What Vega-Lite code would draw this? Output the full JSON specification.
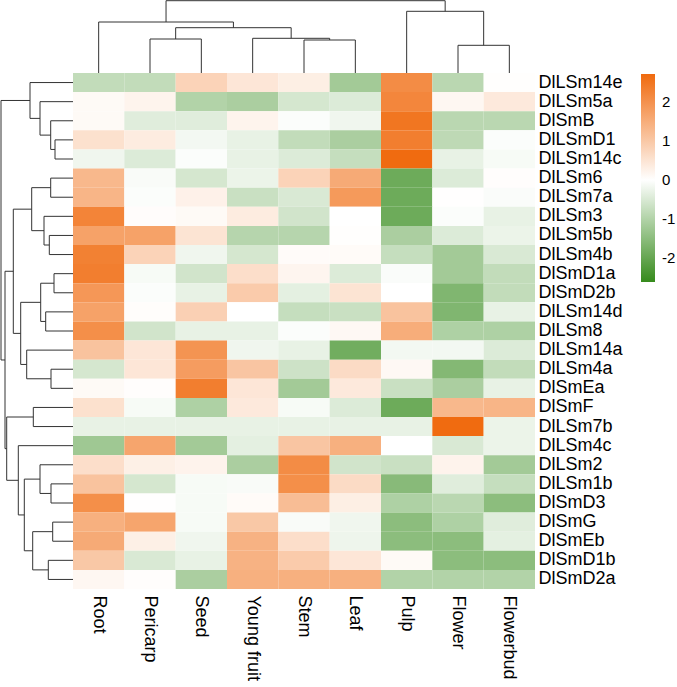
{
  "$schema": "https://vega.github.io/schema/vega-lite/v6.json",
  "padding": 0,
  "autosize": {"type": "pad"},
  "background": "white",
  "config": {"view": {"stroke": null}, "font": "Liberation Sans"},
  "spacing": 0,
  "columns": 2,
  "align": "each",
  "bounds": "flush",
  "datasets": {
    "heat": [
      {"gene":"DlLSm14e","tissue":"Root","value":-0.8},{"gene":"DlLSm14e","tissue":"Pericarp","value":-0.8},{"gene":"DlLSm14e","tissue":"Seed","value":0.8},{"gene":"DlLSm14e","tissue":"Young fruit","value":0.45},{"gene":"DlLSm14e","tissue":"Stem","value":0.3},{"gene":"DlLSm14e","tissue":"Leaf","value":-1.2},{"gene":"DlLSm14e","tissue":"Pulp","value":2.1},{"gene":"DlLSm14e","tissue":"Flower","value":-0.9},{"gene":"DlLSm14e","tissue":"Flowerbud","value":0.02},
      {"gene":"DlLSm5a","tissue":"Root","value":0.1},{"gene":"DlLSm5a","tissue":"Pericarp","value":0.2},{"gene":"DlLSm5a","tissue":"Seed","value":-1.0},{"gene":"DlLSm5a","tissue":"Young fruit","value":-1.1},{"gene":"DlLSm5a","tissue":"Stem","value":-0.55},{"gene":"DlLSm5a","tissue":"Leaf","value":-0.45},{"gene":"DlLSm5a","tissue":"Pulp","value":2.2},{"gene":"DlLSm5a","tissue":"Flower","value":0.15},{"gene":"DlLSm5a","tissue":"Flowerbud","value":0.4},
      {"gene":"DlSmB","tissue":"Root","value":0.1},{"gene":"DlSmB","tissue":"Pericarp","value":-0.4},{"gene":"DlSmB","tissue":"Seed","value":-0.4},{"gene":"DlSmB","tissue":"Young fruit","value":0.2},{"gene":"DlSmB","tissue":"Stem","value":-0.05},{"gene":"DlSmB","tissue":"Leaf","value":-0.2},{"gene":"DlSmB","tissue":"Pulp","value":2.5},{"gene":"DlSmB","tissue":"Flower","value":-0.9},{"gene":"DlSmB","tissue":"Flowerbud","value":-0.9},
      {"gene":"DlLSmD1","tissue":"Root","value":0.55},{"gene":"DlLSmD1","tissue":"Pericarp","value":0.35},{"gene":"DlLSmD1","tissue":"Seed","value":-0.15},{"gene":"DlLSmD1","tissue":"Young fruit","value":-0.3},{"gene":"DlLSmD1","tissue":"Stem","value":-0.8},{"gene":"DlLSmD1","tissue":"Leaf","value":-1.1},{"gene":"DlLSmD1","tissue":"Pulp","value":2.35},{"gene":"DlLSmD1","tissue":"Flower","value":-0.85},{"gene":"DlLSmD1","tissue":"Flowerbud","value":-0.05},
      {"gene":"DlLSm14c","tissue":"Root","value":-0.2},{"gene":"DlLSm14c","tissue":"Pericarp","value":-0.45},{"gene":"DlLSm14c","tissue":"Seed","value":-0.05},{"gene":"DlLSm14c","tissue":"Young fruit","value":-0.3},{"gene":"DlLSm14c","tissue":"Stem","value":-0.45},{"gene":"DlLSm14c","tissue":"Leaf","value":-0.75},{"gene":"DlLSm14c","tissue":"Pulp","value":2.7},{"gene":"DlLSm14c","tissue":"Flower","value":-0.3},{"gene":"DlLSm14c","tissue":"Flowerbud","value":-0.1},
      {"gene":"DlLSm6","tissue":"Root","value":1.3},{"gene":"DlLSm6","tissue":"Pericarp","value":-0.08},{"gene":"DlLSm6","tissue":"Seed","value":-0.55},{"gene":"DlLSm6","tissue":"Young fruit","value":-0.25},{"gene":"DlLSm6","tissue":"Stem","value":0.8},{"gene":"DlLSm6","tissue":"Leaf","value":1.55},{"gene":"DlLSm6","tissue":"Pulp","value":-1.9},{"gene":"DlLSm6","tissue":"Flower","value":-0.45},{"gene":"DlLSm6","tissue":"Flowerbud","value":0.03},
      {"gene":"DlLSm7a","tissue":"Root","value":1.35},{"gene":"DlLSm7a","tissue":"Pericarp","value":-0.05},{"gene":"DlLSm7a","tissue":"Seed","value":0.25},{"gene":"DlLSm7a","tissue":"Young fruit","value":-0.7},{"gene":"DlLSm7a","tissue":"Stem","value":-0.5},{"gene":"DlLSm7a","tissue":"Leaf","value":1.85},{"gene":"DlLSm7a","tissue":"Pulp","value":-1.9},{"gene":"DlLSm7a","tissue":"Flower","value":0.01},{"gene":"DlLSm7a","tissue":"Flowerbud","value":-0.06},
      {"gene":"DlLSm3","tissue":"Root","value":2.25},{"gene":"DlLSm3","tissue":"Pericarp","value":0.05},{"gene":"DlLSm3","tissue":"Seed","value":0.1},{"gene":"DlLSm3","tissue":"Young fruit","value":0.35},{"gene":"DlLSm3","tissue":"Stem","value":-0.6},{"gene":"DlLSm3","tissue":"Leaf","value":0.0},{"gene":"DlLSm3","tissue":"Pulp","value":-1.9},{"gene":"DlLSm3","tissue":"Flower","value":-0.05},{"gene":"DlLSm3","tissue":"Flowerbud","value":-0.3},
      {"gene":"DlLSm5b","tissue":"Root","value":1.7},{"gene":"DlLSm5b","tissue":"Pericarp","value":1.7},{"gene":"DlLSm5b","tissue":"Seed","value":0.5},{"gene":"DlLSm5b","tissue":"Young fruit","value":-0.95},{"gene":"DlLSm5b","tissue":"Stem","value":-0.95},{"gene":"DlLSm5b","tissue":"Leaf","value":0.02},{"gene":"DlLSm5b","tissue":"Pulp","value":-1.1},{"gene":"DlLSm5b","tissue":"Flower","value":-0.45},{"gene":"DlLSm5b","tissue":"Flowerbud","value":-0.25},
      {"gene":"DlLSm4b","tissue":"Root","value":2.3},{"gene":"DlLSm4b","tissue":"Pericarp","value":0.8},{"gene":"DlLSm4b","tissue":"Seed","value":-0.2},{"gene":"DlLSm4b","tissue":"Young fruit","value":-0.55},{"gene":"DlLSm4b","tissue":"Stem","value":0.07},{"gene":"DlLSm4b","tissue":"Leaf","value":0.08},{"gene":"DlLSm4b","tissue":"Pulp","value":-0.75},{"gene":"DlLSm4b","tissue":"Flower","value":-1.2},{"gene":"DlLSm4b","tissue":"Flowerbud","value":-0.5},
      {"gene":"DlSmD1a","tissue":"Root","value":2.35},{"gene":"DlSmD1a","tissue":"Pericarp","value":-0.1},{"gene":"DlSmD1a","tissue":"Seed","value":-0.6},{"gene":"DlSmD1a","tissue":"Young fruit","value":0.6},{"gene":"DlSmD1a","tissue":"Stem","value":0.18},{"gene":"DlSmD1a","tissue":"Leaf","value":-0.45},{"gene":"DlSmD1a","tissue":"Pulp","value":-0.06},{"gene":"DlSmD1a","tissue":"Flower","value":-1.2},{"gene":"DlSmD1a","tissue":"Flowerbud","value":-0.8},
      {"gene":"DlSmD2b","tissue":"Root","value":1.9},{"gene":"DlSmD2b","tissue":"Pericarp","value":-0.05},{"gene":"DlSmD2b","tissue":"Seed","value":-0.3},{"gene":"DlSmD2b","tissue":"Young fruit","value":0.95},{"gene":"DlSmD2b","tissue":"Stem","value":-0.35},{"gene":"DlSmD2b","tissue":"Leaf","value":0.5},{"gene":"DlSmD2b","tissue":"Pulp","value":0.0},{"gene":"DlSmD2b","tissue":"Flower","value":-1.65},{"gene":"DlSmD2b","tissue":"Flowerbud","value":-0.8},
      {"gene":"DlLSm14d","tissue":"Root","value":1.7},{"gene":"DlLSm14d","tissue":"Pericarp","value":0.04},{"gene":"DlLSm14d","tissue":"Seed","value":0.85},{"gene":"DlLSm14d","tissue":"Young fruit","value":0.0},{"gene":"DlLSm14d","tissue":"Stem","value":-0.75},{"gene":"DlLSm14d","tissue":"Leaf","value":-0.7},{"gene":"DlLSm14d","tissue":"Pulp","value":1.1},{"gene":"DlLSm14d","tissue":"Flower","value":-1.65},{"gene":"DlLSm14d","tissue":"Flowerbud","value":-0.3},
      {"gene":"DlLSm8","tissue":"Root","value":2.05},{"gene":"DlLSm8","tissue":"Pericarp","value":-0.6},{"gene":"DlLSm8","tissue":"Seed","value":-0.3},{"gene":"DlLSm8","tissue":"Young fruit","value":-0.3},{"gene":"DlLSm8","tissue":"Stem","value":-0.05},{"gene":"DlLSm8","tissue":"Leaf","value":0.12},{"gene":"DlLSm8","tissue":"Pulp","value":1.5},{"gene":"DlLSm8","tissue":"Flower","value":-1.05},{"gene":"DlLSm8","tissue":"Flowerbud","value":-1.05},
      {"gene":"DlLSm14a","tissue":"Root","value":1.1},{"gene":"DlLSm14a","tissue":"Pericarp","value":0.45},{"gene":"DlLSm14a","tissue":"Seed","value":1.95},{"gene":"DlLSm14a","tissue":"Young fruit","value":-0.2},{"gene":"DlLSm14a","tissue":"Stem","value":-0.3},{"gene":"DlLSm14a","tissue":"Leaf","value":-1.85},{"gene":"DlLSm14a","tissue":"Pulp","value":-0.15},{"gene":"DlLSm14a","tissue":"Flower","value":-0.15},{"gene":"DlLSm14a","tissue":"Flowerbud","value":-0.45},
      {"gene":"DlLSm4a","tissue":"Root","value":-0.55},{"gene":"DlLSm4a","tissue":"Pericarp","value":0.45},{"gene":"DlLSm4a","tissue":"Seed","value":1.8},{"gene":"DlLSm4a","tissue":"Young fruit","value":1.05},{"gene":"DlLSm4a","tissue":"Stem","value":-0.65},{"gene":"DlLSm4a","tissue":"Leaf","value":0.65},{"gene":"DlLSm4a","tissue":"Pulp","value":0.12},{"gene":"DlLSm4a","tissue":"Flower","value":-1.6},{"gene":"DlLSm4a","tissue":"Flowerbud","value":-0.8},
      {"gene":"DlSmEa","tissue":"Root","value":0.1},{"gene":"DlSmEa","tissue":"Pericarp","value":0.03},{"gene":"DlSmEa","tissue":"Seed","value":2.35},{"gene":"DlSmEa","tissue":"Young fruit","value":0.45},{"gene":"DlSmEa","tissue":"Stem","value":-1.2},{"gene":"DlSmEa","tissue":"Leaf","value":0.4},{"gene":"DlSmEa","tissue":"Pulp","value":-0.7},{"gene":"DlSmEa","tissue":"Flower","value":-1.1},{"gene":"DlSmEa","tissue":"Flowerbud","value":-0.3},
      {"gene":"DlSmF","tissue":"Root","value":0.55},{"gene":"DlSmF","tissue":"Pericarp","value":-0.1},{"gene":"DlSmF","tissue":"Seed","value":-1.05},{"gene":"DlSmF","tissue":"Young fruit","value":0.4},{"gene":"DlSmF","tissue":"Stem","value":-0.1},{"gene":"DlSmF","tissue":"Leaf","value":-0.45},{"gene":"DlSmF","tissue":"Pulp","value":-1.9},{"gene":"DlSmF","tissue":"Flower","value":1.3},{"gene":"DlSmF","tissue":"Flowerbud","value":1.35},
      {"gene":"DlLSm7b","tissue":"Root","value":-0.3},{"gene":"DlLSm7b","tissue":"Pericarp","value":-0.3},{"gene":"DlLSm7b","tissue":"Seed","value":-0.3},{"gene":"DlLSm7b","tissue":"Young fruit","value":-0.3},{"gene":"DlLSm7b","tissue":"Stem","value":-0.3},{"gene":"DlLSm7b","tissue":"Leaf","value":-0.3},{"gene":"DlLSm7b","tissue":"Pulp","value":-0.3},{"gene":"DlLSm7b","tissue":"Flower","value":2.7},{"gene":"DlLSm7b","tissue":"Flowerbud","value":-0.25},
      {"gene":"DlLSm4c","tissue":"Root","value":-1.25},{"gene":"DlLSm4c","tissue":"Pericarp","value":1.65},{"gene":"DlLSm4c","tissue":"Seed","value":-1.2},{"gene":"DlLSm4c","tissue":"Young fruit","value":-0.35},{"gene":"DlLSm4c","tissue":"Stem","value":1.05},{"gene":"DlLSm4c","tissue":"Leaf","value":1.45},{"gene":"DlLSm4c","tissue":"Pulp","value":0.0},{"gene":"DlLSm4c","tissue":"Flower","value":-0.5},{"gene":"DlLSm4c","tissue":"Flowerbud","value":-0.25},
      {"gene":"DlLSm2","tissue":"Root","value":0.6},{"gene":"DlLSm2","tissue":"Pericarp","value":0.28},{"gene":"DlLSm2","tissue":"Seed","value":0.22},{"gene":"DlLSm2","tissue":"Young fruit","value":-1.1},{"gene":"DlLSm2","tissue":"Stem","value":2.1},{"gene":"DlLSm2","tissue":"Leaf","value":-0.6},{"gene":"DlLSm2","tissue":"Pulp","value":-0.7},{"gene":"DlLSm2","tissue":"Flower","value":0.22},{"gene":"DlLSm2","tissue":"Flowerbud","value":-1.2},
      {"gene":"DlLSm1b","tissue":"Root","value":1.1},{"gene":"DlLSm1b","tissue":"Pericarp","value":-0.55},{"gene":"DlLSm1b","tissue":"Seed","value":-0.1},{"gene":"DlLSm1b","tissue":"Young fruit","value":-0.08},{"gene":"DlLSm1b","tissue":"Stem","value":2.05},{"gene":"DlLSm1b","tissue":"Leaf","value":0.65},{"gene":"DlLSm1b","tissue":"Pulp","value":-1.55},{"gene":"DlLSm1b","tissue":"Flower","value":-0.4},{"gene":"DlLSm1b","tissue":"Flowerbud","value":-0.75},
      {"gene":"DlSmD3","tissue":"Root","value":2.05},{"gene":"DlSmD3","tissue":"Pericarp","value":0.01},{"gene":"DlSmD3","tissue":"Seed","value":-0.1},{"gene":"DlSmD3","tissue":"Young fruit","value":0.08},{"gene":"DlSmD3","tissue":"Stem","value":1.2},{"gene":"DlSmD3","tissue":"Leaf","value":0.3},{"gene":"DlSmD3","tissue":"Pulp","value":-1.05},{"gene":"DlSmD3","tissue":"Flower","value":-0.9},{"gene":"DlSmD3","tissue":"Flowerbud","value":-1.5},
      {"gene":"DlSmG","tissue":"Root","value":1.45},{"gene":"DlSmG","tissue":"Pericarp","value":1.65},{"gene":"DlSmG","tissue":"Seed","value":-0.1},{"gene":"DlSmG","tissue":"Young fruit","value":1.0},{"gene":"DlSmG","tissue":"Stem","value":-0.08},{"gene":"DlSmG","tissue":"Leaf","value":-0.2},{"gene":"DlSmG","tissue":"Pulp","value":-1.5},{"gene":"DlSmG","tissue":"Flower","value":-1.05},{"gene":"DlSmG","tissue":"Flowerbud","value":-0.4},
      {"gene":"DlSmEb","tissue":"Root","value":1.55},{"gene":"DlSmEb","tissue":"Pericarp","value":0.28},{"gene":"DlSmEb","tissue":"Seed","value":-0.2},{"gene":"DlSmEb","tissue":"Young fruit","value":1.4},{"gene":"DlSmEb","tissue":"Stem","value":0.6},{"gene":"DlSmEb","tissue":"Leaf","value":-0.22},{"gene":"DlSmEb","tissue":"Pulp","value":-1.5},{"gene":"DlSmEb","tissue":"Flower","value":-1.5},{"gene":"DlSmEb","tissue":"Flowerbud","value":-0.35},
      {"gene":"DlSmD1b","tissue":"Root","value":1.0},{"gene":"DlSmD1b","tissue":"Pericarp","value":-0.5},{"gene":"DlSmD1b","tissue":"Seed","value":-0.3},{"gene":"DlSmD1b","tissue":"Young fruit","value":1.4},{"gene":"DlSmD1b","tissue":"Stem","value":0.95},{"gene":"DlSmD1b","tissue":"Leaf","value":0.45},{"gene":"DlSmD1b","tissue":"Pulp","value":0.1},{"gene":"DlSmD1b","tissue":"Flower","value":-1.5},{"gene":"DlSmD1b","tissue":"Flowerbud","value":-1.5},
      {"gene":"DlSmD2a","tissue":"Root","value":0.15},{"gene":"DlSmD2a","tissue":"Pericarp","value":0.03},{"gene":"DlSmD2a","tissue":"Seed","value":-1.1},{"gene":"DlSmD2a","tissue":"Young fruit","value":1.45},{"gene":"DlSmD2a","tissue":"Stem","value":1.45},{"gene":"DlSmD2a","tissue":"Leaf","value":1.45},{"gene":"DlSmD2a","tissue":"Pulp","value":-1.0},{"gene":"DlSmD2a","tissue":"Flower","value":-1.0},{"gene":"DlSmD2a","tissue":"Flowerbud","value":-1.0}
    ],
    "colTree": [
      {"a":1.5,"ha":0,"b":2.5,"hb":0,"h":34},
      {"a":4.5,"ha":0,"b":5.5,"hb":0,"h":33},
      {"a":3.5,"ha":0,"b":5.0,"hb":33,"h":34.7},
      {"a":2.0,"ha":34,"b":4.25,"hb":34.7,"h":45.3},
      {"a":0.5,"ha":0,"b":3.125,"hb":45.3,"h":51},
      {"a":7.5,"ha":0,"b":8.5,"hb":0,"h":27.7},
      {"a":6.5,"ha":0,"b":8.0,"hb":27.7,"h":61.7},
      {"a":1.8125,"ha":51,"b":7.25,"hb":61.7,"h":72.3}
    ],
    "rowTree": [
      {"a":3.5,"ha":0,"b":4.5,"hb":0,"h":18},
      {"a":2.5,"ha":0,"b":4.0,"hb":18,"h":22.3},
      {"a":1.5,"ha":0,"b":3.25,"hb":22.3,"h":33},
      {"a":0.5,"ha":0,"b":2.375,"hb":33,"h":43},
      {"a":5.5,"ha":0,"b":6.5,"hb":0,"h":22.3},
      {"a":8.5,"ha":0,"b":9.5,"hb":0,"h":23.7},
      {"a":7.5,"ha":0,"b":9.0,"hb":23.7,"h":29},
      {"a":6.0,"ha":22.3,"b":8.25,"hb":29,"h":41.3},
      {"a":10.5,"ha":0,"b":11.5,"hb":0,"h":19},
      {"a":12.5,"ha":0,"b":13.5,"hb":0,"h":27.3},
      {"a":11.0,"ha":19,"b":13.0,"hb":27.3,"h":32.3},
      {"a":15.5,"ha":0,"b":16.5,"hb":0,"h":22},
      {"a":14.5,"ha":0,"b":16.0,"hb":22,"h":46.3},
      {"a":12.0,"ha":32.3,"b":15.25,"hb":46.3,"h":52.3},
      {"a":7.125,"ha":41.3,"b":13.625,"hb":52.3,"h":59.7},
      {"a":17.5,"ha":0,"b":18.5,"hb":0,"h":39.7},
      {"a":21.5,"ha":0,"b":22.5,"hb":0,"h":22},
      {"a":20.5,"ha":0,"b":22.0,"hb":22,"h":33},
      {"a":23.5,"ha":0,"b":24.5,"hb":0,"h":20.3},
      {"a":25.5,"ha":0,"b":26.5,"hb":0,"h":24.7},
      {"a":24.0,"ha":20.3,"b":26.0,"hb":24.7,"h":40.3},
      {"a":21.25,"ha":33,"b":25.0,"hb":40.3,"h":48.7},
      {"a":19.5,"ha":0,"b":23.125,"hb":48.7,"h":54.7},
      {"a":18.0,"ha":39.7,"b":21.3125,"hb":54.7,"h":66.3},
      {"a":10.375,"ha":59.7,"b":19.656,"hb":66.3,"h":68},
      {"a":1.4375,"ha":43,"b":15.016,"hb":68,"h":72}
    ]
  },
  "concat": [
    {
      "width": 73, "height": 73,
      "data": {"values": [{}]},
      "mark": {"type": "point", "opacity": 0}
    },
    {
      "width": 462, "height": 73,
      "data": {"name": "colTree"},
      "layer": [
        {"mark": {"type": "rule", "color": "#333333", "strokeWidth": 1},
         "encoding": {
           "x": {"field": "a", "type": "quantitative", "scale": {"domain": [0, 9], "nice": false, "zero": false}, "axis": null},
           "y": {"field": "ha", "type": "quantitative", "scale": {"domain": [0, 73], "nice": false}, "axis": null},
           "y2": {"field": "h"}}},
        {"mark": {"type": "rule", "color": "#333333", "strokeWidth": 1},
         "encoding": {
           "x": {"field": "b", "type": "quantitative", "axis": null},
           "y": {"field": "hb", "type": "quantitative", "axis": null},
           "y2": {"field": "h"}}},
        {"mark": {"type": "rule", "color": "#333333", "strokeWidth": 1},
         "encoding": {
           "x": {"field": "a", "type": "quantitative", "axis": null},
           "x2": {"field": "b"},
           "y": {"field": "h", "type": "quantitative", "axis": null}}}
      ]
    },
    {
      "width": 73, "height": 516,
      "data": {"name": "rowTree"},
      "layer": [
        {"mark": {"type": "rule", "color": "#333333", "strokeWidth": 1},
         "encoding": {
           "y": {"field": "a", "type": "quantitative", "scale": {"domain": [0, 27], "nice": false, "zero": false, "reverse": true}, "axis": null},
           "x": {"field": "ha", "type": "quantitative", "scale": {"domain": [0, 73], "nice": false, "reverse": true}, "axis": null},
           "x2": {"field": "h"}}},
        {"mark": {"type": "rule", "color": "#333333", "strokeWidth": 1},
         "encoding": {
           "y": {"field": "b", "type": "quantitative", "axis": null},
           "x": {"field": "hb", "type": "quantitative", "axis": null},
           "x2": {"field": "h"}}},
        {"mark": {"type": "rule", "color": "#333333", "strokeWidth": 1},
         "encoding": {
           "y": {"field": "a", "type": "quantitative", "axis": null},
           "y2": {"field": "b"},
           "x": {"field": "h", "type": "quantitative", "axis": null}}}
      ]
    },
    {
      "width": 462, "height": 516,
      "data": {"name": "heat"},
      "mark": {"type": "rect"},
      "encoding": {
        "x": {"field": "tissue", "type": "nominal",
              "sort": ["Root","Pericarp","Seed","Young fruit","Stem","Leaf","Pulp","Flower","Flowerbud"],
              "axis": {"orient": "bottom", "title": null, "ticks": false, "domain": false, "labelAngle": 90, "labelAlign": "left", "labelBaseline": "middle", "labelFontSize": 18, "labelPadding": 6, "labelColor": "#000000", "labelOverlap": false, "labelFont": "Liberation Sans"}},
        "y": {"field": "gene", "type": "nominal",
              "sort": ["DlLSm14e","DlLSm5a","DlSmB","DlLSmD1","DlLSm14c","DlLSm6","DlLSm7a","DlLSm3","DlLSm5b","DlLSm4b","DlSmD1a","DlSmD2b","DlLSm14d","DlLSm8","DlLSm14a","DlLSm4a","DlSmEa","DlSmF","DlLSm7b","DlLSm4c","DlLSm2","DlLSm1b","DlSmD3","DlSmG","DlSmEb","DlSmD1b","DlSmD2a"],
              "axis": {"orient": "right", "title": null, "ticks": false, "domain": false, "labelFontSize": 18, "labelPadding": 3, "labelColor": "#000000", "labelOverlap": false, "labelFont": "Liberation Sans"}},
        "color": {"field": "value", "type": "quantitative",
                  "scale": {"domain": [-2.62, 0, 2.72], "range": ["#368B1C", "#FFFFFF", "#F06A0E"], "interpolate": "rgb"},
                  "legend": {"type": "gradient", "orient": "none", "legendX": 641, "legendY": 74, "title": null, "direction": "vertical", "gradientLength": 208, "gradientThickness": 14, "values": [-2, -1, 0, 1, 2], "labelExpr": "'' + datum.value", "labelFontSize": 15, "labelOffset": 7, "labelColor": "#000000", "labelFont": "Liberation Sans", "gradientStrokeWidth": 0}}
      }
    }
  ]
}
